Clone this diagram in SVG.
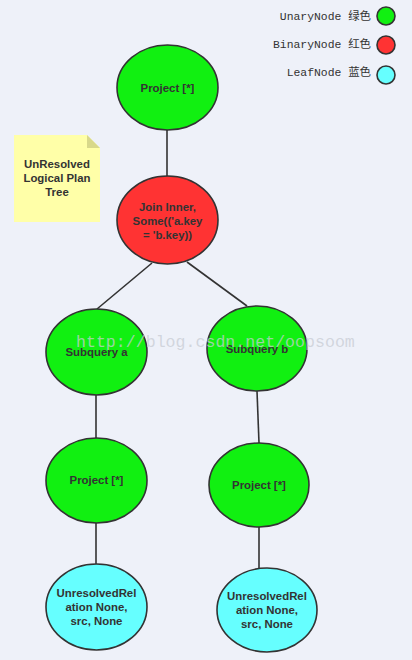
<svg xmlns="http://www.w3.org/2000/svg" width="412" height="660" viewBox="0 0 412 660">
<style>
.n{stroke:#333;stroke-width:1.6}
.u{fill:#11f011}
.b{fill:#ff3333}
.l{fill:#66ffff}
.t{font-family:"Liberation Sans",Arial,sans-serif;font-weight:bold;font-size:11.4px;fill:#333;text-anchor:middle}
.lg{font-family:"Liberation Mono","DejaVu Sans Mono","Noto Sans CJK SC",monospace;font-size:11.4px;fill:#333;text-anchor:end}
.c{stroke:#333;stroke-width:1.6;fill:none}
</style>
<rect width="412" height="660" fill="#eef1f9"/>
<g id="legend">
<text class="lg" x="371" y="20">UnaryNode 绿色</text>
<circle class="n u" cx="386" cy="16" r="9"/>
<text class="lg" x="371" y="48">BinaryNode 红色</text>
<circle class="n b" cx="386" cy="45" r="9"/>
<text class="lg" x="371" y="76">LeafNode 蓝色</text>
<circle class="n l" cx="386" cy="75" r="9"/>
</g>
<g id="note">
<path d="M14 135 H87 L100 148 V222 H14 Z" fill="#ffffa8"/>
<path d="M87 135 L100 148 H87 Z" fill="#d8d88a"/>
<text class="t" x="57" y="168">UnResolved</text>
<text class="t" x="57" y="182">Logical Plan</text>
<text class="t" x="57" y="196">Tree</text>
</g>
<g id="connectors">
<line class="c" x1="167" y1="130" x2="167" y2="177"/>
<line class="c" x1="152" y1="263" x2="97" y2="309"/>
<line class="c" x1="187" y1="262" x2="247" y2="306"/>
<line class="c" x1="96" y1="395" x2="96" y2="438"/>
<line class="c" x1="257" y1="391" x2="259" y2="443"/>
<line class="c" x1="96" y1="523" x2="96" y2="564"/>
<line class="c" x1="259" y1="527" x2="259" y2="568"/>
</g>
<g id="project-top">
<ellipse class="n u" cx="167.5" cy="87.5" rx="50.5" ry="42.5"/>
<text class="t" x="167.5" y="91.5">Project [*]</text>
</g>
<g id="join">
<ellipse class="n b" cx="167.5" cy="220" rx="50.5" ry="44"/>
<text class="t" x="167.5" y="211">Join Inner,</text>
<text class="t" x="167.5" y="225">Some(('a.key</text>
<text class="t" x="167.5" y="239">= 'b.key))</text>
</g>
<g id="subquery-a">
<ellipse class="n u" cx="96.5" cy="352" rx="50.5" ry="43"/>
<text class="t" x="96.5" y="356">Subquery a</text>
</g>
<g id="subquery-b">
<ellipse class="n u" cx="257" cy="348.5" rx="50" ry="42.5"/>
<text class="t" x="257" y="353">Subquery b</text>
</g>
<g id="project-a">
<ellipse class="n u" cx="96.5" cy="480.5" rx="50.5" ry="42.5"/>
<text class="t" x="96.5" y="484">Project [*]</text>
</g>
<g id="project-b">
<ellipse class="n u" cx="259" cy="485" rx="50" ry="42"/>
<text class="t" x="259" y="489">Project [*]</text>
</g>
<g id="leaf-a">
<ellipse class="n l" cx="96.5" cy="607" rx="50.5" ry="43"/>
<text class="t" x="96.5" y="597">UnresolvedRel</text>
<text class="t" x="96.5" y="611">ation None,</text>
<text class="t" x="96.5" y="625">src, None</text>
</g>
<g id="leaf-b">
<ellipse class="n l" cx="267" cy="610" rx="50" ry="42"/>
<text class="t" x="267" y="600">UnresolvedRel</text>
<text class="t" x="267" y="614">ation None,</text>
<text class="t" x="267" y="628">src, None</text>
</g>
<text x="76" y="347" font-family="'Liberation Mono',monospace" font-size="16.6" fill="#c8ccd4" fill-opacity="0.75">http://blog.csdn.net/oopsoom</text>
</svg>
